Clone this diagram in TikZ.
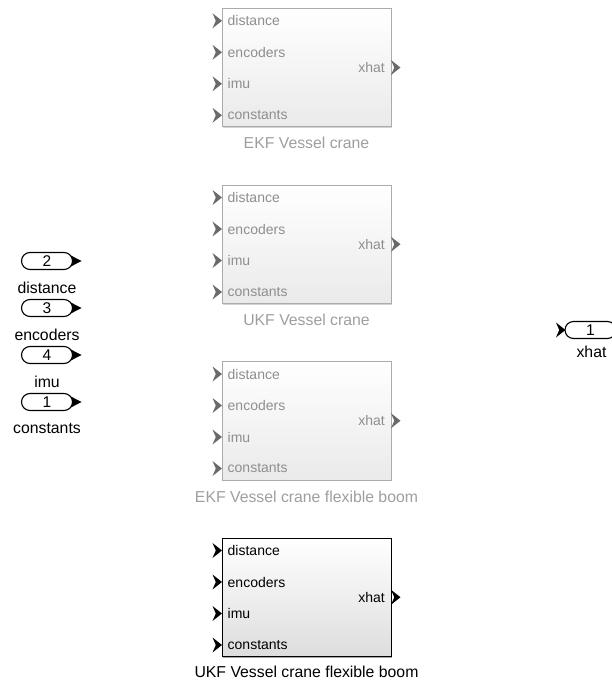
\documentclass[tikz,border=0pt]{standalone}
\usepackage{fontspec}
\setmainfont{Liberation Sans}
\usetikzlibrary{calc,shadows}
\definecolor{gborder}{HTML}{ABABAB}
\definecolor{gtext}{HTML}{8E8E8E}
\definecolor{gname}{HTML}{9E9E9E}
\definecolor{gport}{HTML}{6A6A6A}
\definecolor{gfill}{HTML}{EAEAEA}
\definecolor{bfill}{HTML}{DDDDDD}
\tikzset{
  blkbase/.style={minimum width=169pt, minimum height=118.5pt, inner sep=0pt, outer sep=0pt, top color=white},
  blkgray/.style={blkbase, draw=gborder, line width=0.8pt, bottom color=gfill,
    drop shadow={shadow xshift=1pt, shadow yshift=-1pt, fill=gray!35, opacity=1}},
  blkblack/.style={blkbase, draw=black, line width=1pt, bottom color=bfill,
    drop shadow={shadow xshift=1.2pt, shadow yshift=-1.2pt, fill=gray!70, opacity=1}},
  plabel/.style={font=\fontsize{14}{16}\selectfont, inner sep=0pt, anchor=west},
  olabel/.style={font=\fontsize{14}{16}\selectfont, inner sep=0pt, anchor=east},
  bname/.style={font=\fontsize{15.8}{18}\selectfont, inner sep=0pt},
  portbox/.style={draw=black, fill=white, line width=1.1pt, rounded corners=8.5pt,
    minimum width=51pt, minimum height=17pt, inner sep=0pt, font=\fontsize{15.5}{18}\selectfont},
  chev/.pic={\fill (0,0) -- (-9.5,-7.5) -- (-6.2,0) -- (-9.5,7.5) -- cycle;},
}
\begin{document}
\begin{tikzpicture}[x=1pt,y=-1pt]
\useasboundingbox (0,0) rectangle (611,684);

% subsystem blocks
\node[blkgray]  (b1) at (306.5,67.55)  {};
\node[blkgray]  (b2) at (306.5,244.25) {};
\node[blkgray]  (b3) at (306.5,420.75) {};
\node[blkblack] (b4) at (306.5,597.25) {};

\foreach \b/\pc/\tc in {b1/gport/gtext, b2/gport/gtext, b3/gport/gtext, b4/black/black} {
  \foreach \dy/\t in {12.5/distance, 44/encoders, 75.5/imu, 107/constants} {
    \pic[color=\pc] at ($(\b.north west)+(0,\dy)$) {chev};
    \node[plabel, text=\tc] (\b-\t) at ($(\b.north west)+(5.5,\dy)$) {\t};
  }
  \pic[color=\pc] at ($(\b.east)+(9.5,0)$) {chev};
  \node[olabel, text=\tc] (\b-xhat) at ($(\b.east)+(-6,0)$) {xhat};
}

\node[bname, text=gname] (n1) at ($(b1.south)+(0,16.5)$) {EKF Vessel crane};
\node[bname, text=gname] (n2) at ($(b2.south)+(0,16.5)$) {UKF Vessel crane};
\node[bname, text=gname] (n3) at ($(b3.south)+(0,16.5)$) {EKF Vessel crane flexible boom};
\node[bname, text=black] (n4) at ($(b4.south)+(0,15.5)$) {UKF Vessel crane flexible boom};

% inports
\foreach \n/\y/\t in {2/261/distance, 3/308/encoders, 4/355/imu, 1/402/constants} {
  \coordinate (c\n) at (47,\y);
  \fill[black] ($(c\n)+(20,-7.5)$) -- ($(c\n)+(34.5,0)$) -- ($(c\n)+(20,7.5)$) -- cycle;
  \node[portbox] (in\n) at (c\n) {\n};
  \node[bname] (lin\n) at ($(c\n)+(0,26.5)$) {\t};
}

% outport
\node[portbox] (out1) at (590.5,330) {1};
\pic[color=black] at ($(out1.west)+(1,0)$) {chev};
\node[bname] (lout1) at ($(out1.center)+(1,22)$) {xhat};
\end{tikzpicture}
\end{document}
